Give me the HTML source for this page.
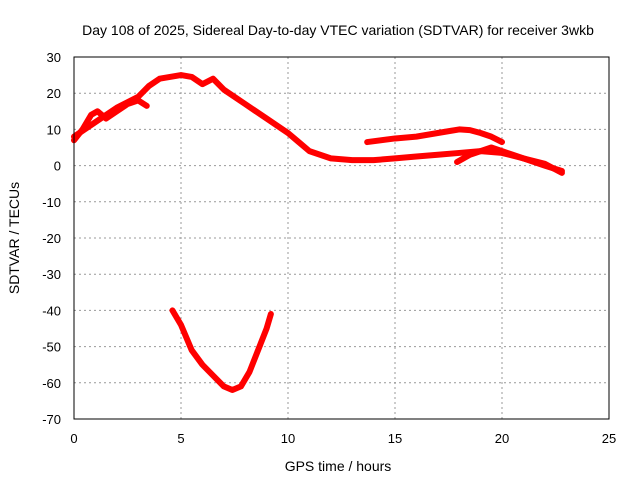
<!DOCTYPE html>
<html><head><meta charset="utf-8"><style>
body{margin:0;background:#fff}
svg{display:block;font-family:"Liberation Sans",sans-serif}
</style></head><body>
<svg id="chart" width="640" height="480">
<text x="338" y="35" font-size="14" text-anchor="middle">Day 108 of 2025, Sidereal Day-to-day VTEC variation (SDTVAR) for receiver 3wkb</text>
<text x="338" y="471" font-size="14" text-anchor="middle">GPS time / hours</text>
<text transform="translate(19,238) rotate(-90)" font-size="14" text-anchor="middle">SDTVAR / TECUs</text>
<g id="grid"></g><g id="ticks"></g><g id="series"></g>
<rect x="74" y="57" width="535" height="362" fill="none" stroke="#000" stroke-width="1"/>
</svg>
<script>
const xTicks=[0,5,10,15,20,25];
const yTicks=[30,20,10,0,-10,-20,-30,-40,-50,-60,-70];
const mainHours=[0,0.5,1,2,3,3.5,4,5,5.5,6,6.5,7,8,9,10,10.5,11,12,13,14,15,16,17,18,19,20,21,22,22.8];
const mainValues=[8,10,12,16,19,22,24,25,24.5,22.5,24,21,17,13,9,6.5,4,2,1.5,1.5,2,2.5,3,3.5,4,3.5,2,0,-1.5];
const loopHours=[0,0.4,0.8,1.1,1.5,2,2.5,3,3.4];
const loopValues=[7,10,14,15,13,15,17,18,16.5];
const upperHours=[13.7,15,16,17,18,18.5,19,19.5,20];
const upperValues=[6.5,7.5,8,9,10,9.8,9,8,6.5];
const lowerHours=[17.9,18.5,19,19.5,20,20.5,21,22,22.8];
const lowerValues=[1,3,4,5,4,3,2,0.5,-2];
const vHours=[4.6,5,5.5,6,6.5,7,7.4,7.8,8.2,8.6,9,9.2];
const vValues=[-40,-44,-51,-55,-58,-61,-62,-61,-57,-51,-45,-41];
const X=h=>74+h*(535/25), Y=v=>57+(30-v)*(362/100);
const NS='http://www.w3.org/2000/svg';
function mk(t,a,p){const e=document.createElementNS(NS,t);for(const k in a)e.setAttribute(k,a[k]);p.appendChild(e);return e;}
const g=document.getElementById('grid'),tk=document.getElementById('ticks'),s=document.getElementById('series');
xTicks.forEach(t=>{
 if(t>0&&t<25){const l=mk('line',{x1:X(t),x2:X(t),y1:57,y2:419,stroke:'#999','stroke-dasharray':'2,3'},g);
 
 }
 const tx=mk('text',{x:X(t),y:443,'font-size':13,'text-anchor':'middle'},tk);tx.textContent=t;
 
 
});
yTicks.forEach(t=>{
 if(t<30&&t>-70){const l=mk('line',{x1:74,x2:609,y1:Y(t),y2:Y(t),stroke:'#999','stroke-dasharray':'2,3'},g);
 
 }
 const tx=mk('text',{x:61,y:Y(t)+5,'font-size':13,'text-anchor':'end'},tk);tx.textContent=t;
 
 
});
[[mainHours,mainValues,'main-trace'],[loopHours,loopValues,'loop-trace'],[upperHours,upperValues,'upper-trace'],[lowerHours,lowerValues,'lower-trace'],[vHours,vValues,'dip-trace']].forEach(([hs,vs,n])=>{
 const p=mk('polyline',{points:hs.map((h,i)=>X(h)+','+Y(vs[i])).join(' '),fill:'none',stroke:'#f00','stroke-width':6,'stroke-linejoin':'round','stroke-linecap':'round'},s);
 
 
});
</script>
</body></html>
